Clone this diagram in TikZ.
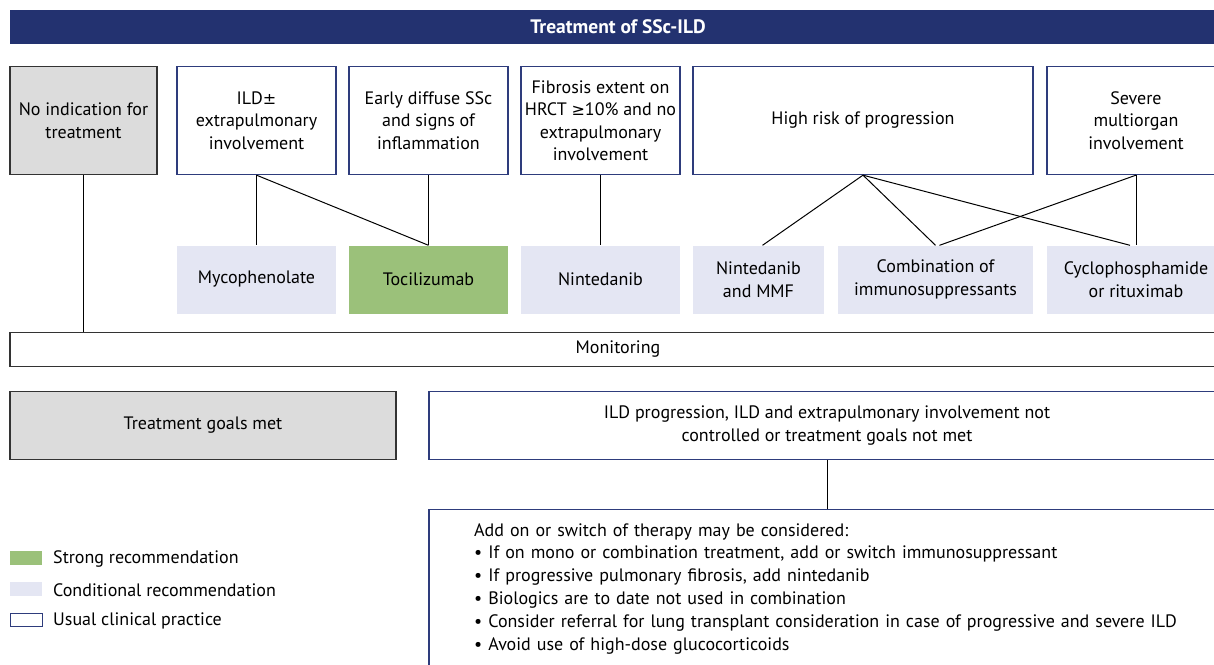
\documentclass[tikz,border=0pt]{standalone}
\usepackage{fontspec}
\setmainfont{PT Sans}
\newfontfamily\symf{DejaVu Sans}
\definecolor{navy}{HTML}{233270}
\definecolor{bordernavy}{HTML}{2E3C7C}
\definecolor{lav}{HTML}{E4E6F3}
\definecolor{grn}{HTML}{9BC17A}
\definecolor{gry}{HTML}{DCDCDC}
\definecolor{dk}{HTML}{333333}
\tikzset{
  base/.style={rectangle, inner sep=0pt, align=center, font=\fontsize{18}{22.5}\selectfont, text=black},
  cbox/.style={base, draw=bordernavy, line width=1.3pt, fill=white},
  gbox/.style={base, draw=dk, line width=1.3pt, fill=gry},
  lbox/.style={base, fill=lav},
  sbox/.style={base, fill=grn},
  link/.style={draw=black, line width=1pt},
}
\begin{document}
\begin{tikzpicture}[x=1pt,y=-1pt]
\useasboundingbox (0,0) rectangle (1214,664);
\clip (0,0) rectangle (1214,664);
\fill[white] (0,0) rectangle (1214,664);
% title
\node[base, fill=navy, text=white, minimum width=1216pt, minimum height=34pt, font=\bfseries\fontsize{19.5}{22}\selectfont] (title) at (618,27) {Treatment of SSc-ILD};
% top row
\node[gbox, minimum width=147pt, minimum height=108pt] (noind) at (83.5,120.5) {No indication for\\treatment};
\node[cbox, minimum width=159pt, minimum height=108pt] (ild) at (256.5,120.5) {ILD{\symf\fontsize{16}{22.5}\selectfont ±}\\extrapulmonary\\involvement};
\node[cbox, minimum width=159pt, minimum height=108pt] (early) at (428.5,120.5) {Early diffuse SSc\\and signs of\\inflammation};
\node[cbox, minimum width=159pt, minimum height=108pt] (fib) at (600.5,120.5) {Fibrosis extent on\\HRCT {\symf\fontsize{16}{22.5}\selectfont ≥}10\% and no\\extrapulmonary\\involvement};
\node[cbox, minimum width=340pt, minimum height=108pt] (high) at (863,120.5) {High risk of progression};
\node[cbox, minimum width=178pt, minimum height=108pt] (sev) at (1136,120.5) {Severe\\multiorgan\\involvement};
% second row
\node[lbox, minimum width=159pt, minimum height=68pt] (myco) at (256.5,279.5) {Mycophenolate};
\node[sbox, minimum width=159pt, minimum height=68pt] (toci) at (428.5,279.5) {Tocilizumab};
\node[lbox, minimum width=159pt, minimum height=68pt] (nint) at (600.5,279.5) {Nintedanib};
\node[lbox, minimum width=131pt, minimum height=68pt] (nmmf) at (758.5,279.5) {Nintedanib\\and MMF};
\node[lbox, minimum width=195pt, minimum height=68pt] (comb) at (935.5,279.5) {Combination of\\immunosuppressants};
\node[lbox, minimum width=178pt, minimum height=68pt] (cyc) at (1136,279.5) {Cyclophosphamide\\or rituximab};
% monitoring
\node[base, draw=dk, line width=1.3pt, fill=white, minimum width=1216pt, minimum height=34pt] (mon) at (618,349.5) {Monitoring};
% lower
\node[gbox, minimum width=386pt, minimum height=68pt] (goals) at (203,425.5) {Treatment goals met};
\node[cbox, minimum width=796pt, minimum height=68pt] (prog) at (827,425.5) {ILD progression, ILD and extrapulmonary involvement not\\controlled or treatment goals not met};
\node[cbox, anchor=north, minimum width=796pt, minimum height=200pt] (addbox) at (827,508.5) {};
\node[base, anchor=north west, align=left, text width=750pt, font=\fontsize{18}{22.8}\selectfont] (addtext) at (474,523) {Add on or switch of therapy may be considered:\\
• If on mono or combination treatment, add or switch immunosuppressant\\
• If progressive pulmonary fibrosis, add nintedanib\\
• Biologics are to date not used in combination\\
• Consider referral for lung transplant consideration in case of progressive and severe ILD\\
• Avoid use of high-dose glucocorticoids};
% connectors
\draw[link] (noind.south) -- (mon.north -| noind.south);
\draw[link] (ild.south) -- (myco.north);
\draw[link] (ild.south) -- (toci.north);
\draw[link] (early.south) -- (toci.north);
\draw[link] (fib.south) -- (nint.north);
\draw[link] (high.south) -- ([xshift=4pt]nmmf.north);
\draw[link] (high.south) -- (comb.north);
\draw[link] (high.south) -- ([xshift=-6pt]cyc.north);
\draw[link] (sev.south) -- ([xshift=4pt]comb.north);
\draw[link] (sev.south) -- (cyc.north);
\draw[link] (prog.south) -- (addbox.north);
% legend
\node[sbox, minimum width=32pt, minimum height=14pt] (lg1) at (26,558) {};
\node[lbox, minimum width=32pt, minimum height=14pt] (lg2) at (26,589) {};
\node[cbox, line width=1pt, minimum width=32pt, minimum height=13pt] (lg3) at (26,619.5) {};
\node[base, anchor=west] (lt1) at (53,559) {Strong recommendation};
\node[base, anchor=west] (lt2) at (53,590) {Conditional recommendation};
\node[base, anchor=west] (lt3) at (53,621) {Usual clinical practice};
\end{tikzpicture}
\end{document}
